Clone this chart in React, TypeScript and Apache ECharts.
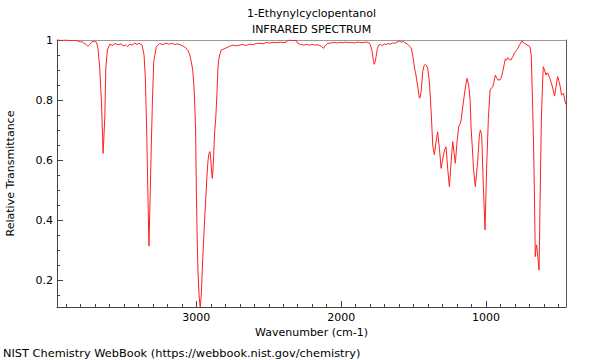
import React, { useEffect, useRef } from "react";
import * as echarts from "echarts";

const titleLines = ["1-Ethynylcyclopentanol", "INFRARED SPECTRUM"];
const xAxisTitle = "Wavenumber (cm-1)";
const yAxisTitle = "Relative Transmittance";
const footer = "NIST Chemistry WebBook (https://webbook.nist.gov/chemistry)";

const xMajorTicks = [1000, 2000, 3000];
const xMinorTicks = [500, 600, 700, 800, 900, 1100, 1200, 1300, 1400, 1500, 1600, 1700, 1800, 1900, 2100, 2200, 2300, 2400, 2500, 2600, 2700, 2800, 2900, 3100, 3200, 3300, 3400, 3500, 3600, 3700, 3800, 3900];
const yMajorTicks = [0.2, 0.4, 0.6, 0.8, 1];
const yMinorTicks = [0.15, 0.25, 0.3, 0.35, 0.45, 0.5, 0.55, 0.65, 0.7, 0.75, 0.85, 0.9, 0.95];

const wavenumbers = [
  3962, 3930, 3900, 3870, 3840, 3817, 3800, 3790, 3775, 3760, 3748, 3738, 3725, 3715, 3705, 3695, 3688, 3679, 3667, 3655,
  3648, 3644, 3640, 3632, 3625, 3614, 3598, 3580, 3560, 3540, 3520, 3500, 3490, 3475, 3460, 3445, 3425, 3410, 3395, 3375,
  3361, 3352, 3343, 3335, 3327, 3318, 3310, 3303, 3294, 3276, 3253, 3230, 3210, 3190, 3170, 3150, 3130, 3110, 3092, 3075,
  3058, 3045, 3035, 3025, 3017, 3012, 3005, 3000, 2994, 2988, 2980, 2973, 2966, 2959, 2951, 2943, 2935, 2927, 2920, 2913,
  2906, 2900, 2894, 2890, 2886, 2881, 2874, 2866, 2858, 2851, 2845, 2839, 2828, 2810, 2793, 2770, 2748, 2725, 2701, 2680,
  2655, 2632, 2610, 2585, 2563, 2540, 2517, 2495, 2470, 2445, 2420, 2400, 2379, 2370, 2350, 2330, 2310, 2300, 2280, 2260,
  2240, 2219, 2200, 2180, 2160, 2150, 2135, 2122, 2110, 2092, 2070, 2050, 2030, 2012, 1990, 1970, 1950, 1930, 1910, 1890,
  1874, 1850, 1830, 1815, 1805, 1795, 1786, 1779, 1772, 1765, 1759, 1750, 1741, 1730, 1715, 1700, 1690, 1675, 1660, 1645,
  1630, 1615, 1598, 1585, 1570, 1560, 1552, 1540, 1530, 1517, 1506, 1494, 1486, 1479, 1470, 1460, 1454, 1448, 1437, 1428,
  1419, 1411, 1403, 1391, 1379, 1368, 1357, 1345, 1334, 1322, 1310, 1302, 1294, 1285, 1276, 1265, 1253, 1241, 1230, 1219,
  1212, 1200, 1189, 1180, 1172, 1160, 1150, 1140, 1131, 1120, 1110, 1103, 1092, 1087, 1074, 1058, 1046, 1039, 1030, 1019,
  1007, 996, 984, 972, 962, 954, 945, 936, 928, 920, 903, 895, 885, 876, 867, 858, 851, 840, 828, 815,
  805, 790, 780, 770, 760, 752, 740, 724, 710, 697, 688, 679, 672, 667, 660, 656, 651, 647, 643, 634,
  627, 618, 610, 605, 600, 596, 586, 580, 572, 565, 559, 552, 545, 535, 527, 517, 506, 498, 490, 479,
  465, 454, 448,
];

const transmittance = [
  1.0, 0.999, 1.0, 0.998, 0.999, 0.997, 0.993, 0.995, 0.988, 0.985, 0.979, 0.984, 0.992, 0.996, 0.994, 0.995, 0.99, 0.972, 0.907, 0.794,
  0.69, 0.622, 0.66, 0.74, 0.907, 0.967, 0.986, 0.982, 0.988, 0.984, 0.987, 0.98, 0.984, 0.978, 0.986, 0.983, 0.99, 0.985, 0.989, 0.983,
  0.95, 0.873, 0.7, 0.5, 0.313, 0.5, 0.667, 0.8, 0.928, 0.978, 0.988, 0.985, 0.99, 0.986, 0.989, 0.985, 0.987, 0.984, 0.98, 0.975,
  0.965, 0.95, 0.928, 0.9, 0.85, 0.8, 0.7, 0.5, 0.33, 0.22, 0.14, 0.108, 0.15, 0.233, 0.32, 0.4, 0.47, 0.544, 0.595, 0.622,
  0.628, 0.6, 0.555, 0.539, 0.56, 0.611, 0.69, 0.74, 0.817, 0.906, 0.935, 0.95, 0.967, 0.97, 0.974, 0.979, 0.983, 0.981, 0.983, 0.985,
  0.982, 0.986, 0.985, 0.988, 0.989, 0.987, 0.992, 0.99, 0.992, 0.991, 0.993, 0.991, 0.993, 0.999, 0.999, 0.998, 0.998, 0.989, 0.985, 0.983,
  0.985, 0.983, 0.985, 0.983, 0.984, 0.982, 0.978, 0.972, 0.982, 0.989, 0.99, 0.992, 0.99, 0.992, 0.991, 0.993, 0.991, 0.992, 0.99, 0.993,
  0.992, 0.991, 0.993, 0.992, 0.99, 0.978, 0.961, 0.935, 0.919, 0.928, 0.945, 0.972, 0.983, 0.985, 0.982, 0.987, 0.985, 0.988, 0.986, 0.99,
  0.989, 0.993, 0.996, 0.993, 0.995, 0.99, 0.989, 0.985, 0.98, 0.974, 0.95, 0.906, 0.89, 0.867, 0.84, 0.806, 0.81, 0.828, 0.894, 0.915,
  0.919, 0.915, 0.906, 0.861, 0.761, 0.65, 0.617, 0.661, 0.694, 0.639, 0.572, 0.595, 0.617, 0.635, 0.644, 0.572, 0.511, 0.594, 0.661, 0.617,
  0.589, 0.661, 0.711, 0.72, 0.733, 0.78, 0.817, 0.85, 0.872, 0.85, 0.8, 0.706, 0.62, 0.572, 0.511, 0.594, 0.683, 0.7, 0.683, 0.517,
  0.367, 0.572, 0.739, 0.833, 0.84, 0.844, 0.86, 0.883, 0.875, 0.867, 0.867, 0.875, 0.894, 0.915, 0.937, 0.933, 0.941, 0.936, 0.933, 0.945,
  0.956, 0.965, 0.972, 0.983, 0.99, 0.997, 0.99, 0.986, 0.982, 0.978, 0.95, 0.794, 0.65, 0.517, 0.278, 0.3, 0.317, 0.3, 0.278, 0.233,
  0.461, 0.739, 0.85, 0.911, 0.905, 0.9, 0.883, 0.89, 0.889, 0.878, 0.872, 0.86, 0.85, 0.83, 0.813, 0.844, 0.878, 0.865, 0.85, 0.817,
  0.822, 0.794, 0.785,
];

const X_MIN = 448;
const X_MAX = 3962;
const Y_MIN = 0.11;
const Y_MAX = 1.0;

const FONT = "DejaVu Sans";
const AXIS_DARK = "#444";

export default function App() {
  const ref = useRef<HTMLDivElement>(null);

  useEffect(() => {
    if (!ref.current) return;
    const chart = echarts.init(ref.current, null, { renderer: "svg" });
    const data = wavenumbers.map((w, i) => [w, transmittance[i]]);

    const baseX = {
      type: "value" as const,
      min: X_MIN,
      max: X_MAX,
      inverse: true,
      splitLine: { show: false },
    };
    const baseY = {
      type: "value" as const,
      min: Y_MIN,
      max: Y_MAX,
      splitLine: { show: false },
    };

    chart.setOption({
      animation: false,
      backgroundColor: "#fff",
      grid: { left: 57, right: 34, top: 40, bottom: 53, containLabel: false },
      xAxis: [
        {
          ...baseX,
          position: "bottom",
          axisLine: { show: true, lineStyle: { color: AXIS_DARK, width: 1 } },
          axisTick: { show: true, inside: true, length: 6, customValues: xMajorTicks, lineStyle: { color: AXIS_DARK } },
          axisLabel: {
            show: true,
            customValues: xMajorTicks,
            margin: 5,
            color: "#000",
            fontFamily: FONT,
            fontSize: 11,
            formatter: (v: number) => String(v),
          },
        },
        {
          ...baseX,
          position: "bottom",
          axisLine: { show: false },
          axisTick: { show: true, inside: true, length: 3, customValues: xMinorTicks, lineStyle: { color: AXIS_DARK } },
          axisLabel: { show: false },
        },
        {
          ...baseX,
          position: "top",
          axisLine: { show: true, lineStyle: { color: "#999", width: 1 } },
          axisTick: { show: false },
          axisLabel: { show: false },
        },
      ],
      yAxis: [
        {
          ...baseY,
          position: "left",
          axisLine: { show: true, lineStyle: { color: AXIS_DARK, width: 1 } },
          axisTick: { show: true, inside: true, length: 6, customValues: yMajorTicks, lineStyle: { color: AXIS_DARK } },
          axisLabel: {
            show: true,
            customValues: yMajorTicks,
            margin: 4,
            color: "#000",
            fontFamily: FONT,
            fontSize: 11,
            formatter: (v: number) => (Math.abs(v - 1) < 1e-9 ? "1" : v.toFixed(1)),
          },
        },
        {
          ...baseY,
          position: "left",
          axisLine: { show: false },
          axisTick: { show: true, inside: true, length: 3, customValues: yMinorTicks, lineStyle: { color: AXIS_DARK } },
          axisLabel: { show: false },
        },
        {
          ...baseY,
          position: "right",
          axisLine: { show: true, lineStyle: { color: "#555", width: 1 } },
          axisTick: { show: false },
          axisLabel: { show: false },
        },
      ],
      series: [
        {
          type: "line",
          xAxisIndex: 0,
          yAxisIndex: 0,
          data,
          showSymbol: false,
          symbol: "none",
          clip: true,
          lineStyle: { color: "#ff2020", width: 1 },
        },
      ],
      graphic: [
        {
          type: "text",
          x: 311.5,
          y: 13,
          style: { text: titleLines[0], fontFamily: FONT, fontSize: 11, fill: "#000", textAlign: "center", textVerticalAlign: "middle" },
        },
        {
          type: "text",
          x: 311.5,
          y: 29.5,
          style: { text: titleLines[1], fontFamily: FONT, fontSize: 11, fill: "#000", textAlign: "center", textVerticalAlign: "middle" },
        },
        {
          type: "text",
          x: 311.5,
          y: 332.5,
          style: { text: xAxisTitle, fontFamily: FONT, fontSize: 11, fill: "#000", textAlign: "center", textVerticalAlign: "middle" },
        },
        {
          type: "text",
          x: 10,
          y: 173.5,
          rotation: Math.PI / 2,
          style: { text: yAxisTitle, fontFamily: FONT, fontSize: 11, fill: "#000", textAlign: "center", textVerticalAlign: "middle" },
        },
        {
          type: "text",
          x: 3,
          y: 352.5,
          style: { text: footer, fontFamily: FONT, fontSize: 11.35, fill: "#000", textAlign: "left", textVerticalAlign: "middle" },
        },
      ],
    });

    return () => chart.dispose();
  }, []);

  return (
    <div
      ref={ref}
      style={{ position: "fixed", left: 0, top: 0, width: 600, height: 360, background: "#fff" }}
    />
  );
}
